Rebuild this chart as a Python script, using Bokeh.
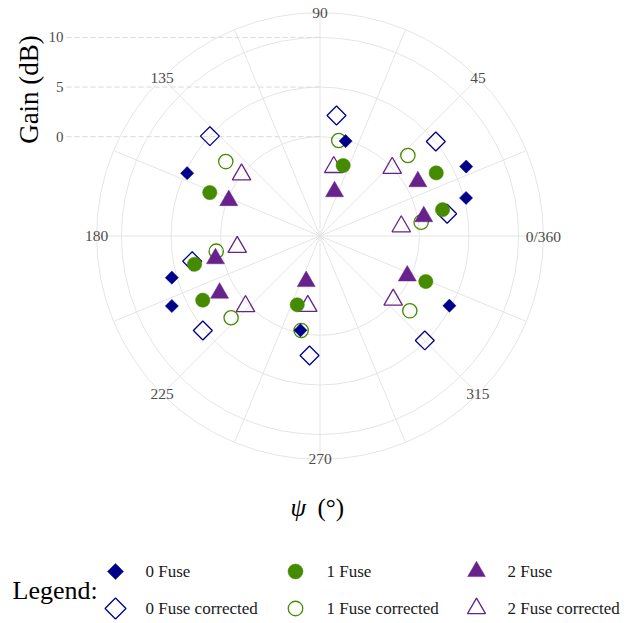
import numpy as np
from bokeh.plotting import figure
from bokeh.models import Range1d
from bokeh.core.properties import value
from bokeh.embed import file_html
from bokeh.resources import INLINE

# ---------------- data (psi in degrees, gain in dB) ----------------
psi_0 = [74.9, 25.4, 14.6, 154.7, 195.7, 205.3, 258.3, 331.7]
gain_0 = [-0.1, 6.3, 5.2, 4.8, 5.5, 6.5, -0.3, 4.8]
psi_0c = [82.2, 39.2, 9.9, 137.8, 191.2, 218.9, 265.0, 315.1]
gain_0c = [2.25, 5.05, 3.0, 4.97, 3.12, 5.16, 2.08, 4.9]
psi_1 = [71.8, 28.5, 12.1, 158.5, 192.7, 208.7, 251.7, 336.7]
gain_1 = [-2.53, 3.32, 2.62, 1.93, 2.95, 3.46, -2.7, 1.6]
psi_1c = [78.9, 42.5, 7.8, 141.7, 188.3, 222.6, 258.7, 320.2]
gain_1c = [-0.2, 2.0, 0.28, 2.09, 0.56, 2.16, -0.3, 1.77]
psi_2 = [71.9, 29.1, 10.6, 158.7, 192.2, 209.6, 253.1, 335.5]
gain_2 = [-5.29, 1.28, 0.63, -0.14, 0.77, 1.63, -5.22, -0.34]
psi_2c = [78.7, 43.3, 6.7, 141.9, 187.6, 223.3, 260.1, 318.9]
gain_2c = [-2.93, -0.01, -1.76, 0.04, -1.59, 0.31, -2.84, -0.22]

series_names = ["0 Fuse", "0 Fuse corrected", "1 Fuse", "1 Fuse corrected",
                "2 Fuse", "2 Fuse corrected"]

theta_breaks = [0, 45, 90, 135, 180, 225, 270, 315]
theta_labels = ["0/360", "45", "90", "135", "180", "225", "270", "315"]
theta_minor = [22.5, 67.5, 112.5, 157.5, 202.5, 247.5, 292.5, 337.5]
r_breaks = [0, 5, 10]
r_labels = ["0", "5", "10"]
GAIN_MIN, GAIN_MAX = -10.0, 10.0

# ---------------- geometry ----------------
W, H = 641, 623
PX = 9.93            # pixels per dB of radius
CX, CY = 319.5, 235.5  # polar centre in page pixels
R_SPAN = GAIN_MAX - GAIN_MIN
R_OUT = R_SPAN * 0.45 / 0.4   # outer circle (ggplot style)


def ux(px):
    return (px - CX) / PX


def uy(py):
    return (CY - py) / PX


def rad(g):
    return np.asarray(g, dtype=float) - GAIN_MIN


def polar(psi, gain):
    t = np.deg2rad(np.asarray(psi, dtype=float))
    r = rad(gain)
    return r * np.cos(t), r * np.sin(t)


p = figure(width=W, height=H, title=None, toolbar_location=None,
           output_backend="svg", min_border=0,
           x_axis_location=None, y_axis_location=None,
           x_range=Range1d(ux(0), ux(W)), y_range=Range1d(uy(H), uy(0)))
p.grid.visible = False
p.outline_line_color = None
p.background_fill_color = "white"
p.border_fill_color = "white"

GRID = "#E5E5E5"
SERIF = value("Liberation Serif")
GREY = "#4D4D4D"

# circles
circ_r = list(rad(r_breaks)) + [R_OUT]
p.circle(x=[0] * len(circ_r), y=[0] * len(circ_r), radius=circ_r,
         fill_color=None, line_color=GRID, line_width=1)

# spokes
all_t = np.deg2rad(np.array(theta_breaks + theta_minor, dtype=float))
p.segment(x0=np.zeros(len(all_t)), y0=np.zeros(len(all_t)),
          x1=R_OUT * np.cos(all_t), y1=R_OUT * np.sin(all_t),
          line_color=GRID, line_width=1)

# radial axis dashed guides
ry = rad(r_breaks)
p.segment(x0=[ux(66)] * 3, y0=ry, x1=[0] * 3, y1=ry,
          line_color="#D9D9D9", line_width=1, line_dash="5 3")
p.text(x=[ux(63)] * 3, y=ry, text=r_labels, text_align="right",
       text_baseline="middle", text_font=SERIF, text_font_size="15px",
       text_color=GREY)

# theta labels
tb = np.deg2rad(np.array(theta_breaks, dtype=float))
p.text(x=R_OUT * np.cos(tb), y=R_OUT * np.sin(tb), text=theta_labels,
       text_align="center", text_baseline="middle", text_font=SERIF,
       text_font_size="15.5px", text_color=GREY)

# axis titles
p.text(x=[ux(28)], y=[uy(89)], text=["Gain (dB)"], angle=np.pi / 2,
       text_align="center", text_baseline="middle", text_font=SERIF,
       text_font_size="27px", text_color="black")
p.text(x=[ux(290)], y=[uy(507)], text=["ψ"], text_align="left",
       text_baseline="middle", text_font=SERIF, text_font_style="italic",
       text_font_size="25px", text_color="black")
p.text(x=[ux(317)], y=[uy(507)], text=["(°)"], text_align="left",
       text_baseline="middle", text_font=SERIF,
       text_font_size="25px", text_color="black")

BLUE, GREEN, PURPLE = "#00008B", "#458B00", "#68228B"

# ---------------- points ----------------
x, y = polar(psi_0c, gain_0c)
p.scatter(x, y, marker="square", angle=np.pi / 4, size=13.4,
          fill_color=None, line_color=BLUE, line_width=1.3)
x, y = polar(psi_1c, gain_1c)
p.scatter(x, y, marker="circle", size=14.3,
          fill_color=None, line_color=GREEN, line_width=1.3)
x, y = polar(psi_2c, gain_2c)
p.scatter(x, y, marker="triangle", size=18.5,
          fill_color=None, line_color=PURPLE, line_width=1.3)
x, y = polar(psi_0, gain_0)
p.scatter(x, y, marker="square", angle=np.pi / 4, size=9.3,
          fill_color=BLUE, line_color=BLUE, line_width=0.5)
x, y = polar(psi_1, gain_1)
p.scatter(x, y, marker="circle", size=14.3,
          fill_color=GREEN, line_color=GREEN, line_width=0.5)
x, y = polar(psi_2, gain_2)
p.scatter(x, y, marker="triangle", size=18,
          fill_color=PURPLE, line_color=PURPLE, line_width=0.5)

# ---------------- legend ----------------
p.text(x=[ux(12)], y=[uy(590)], text=["Legend:"], text_align="left",
       text_baseline="middle", text_font=SERIF, text_font_size="26px",
       text_color="black")

col_mx = [115, 295, 476]
col_tx = [145, 326, 507]
row_y = [571, 608]
leg_specs = [
    ("square", np.pi / 4, 11.3, BLUE, BLUE),
    ("square", np.pi / 4, 14.8, None, BLUE),
    ("circle", 0, 15, GREEN, GREEN),
    ("circle", 0, 14.5, None, GREEN),
    ("triangle", 0, 17.7, PURPLE, PURPLE),
    ("triangle", 0, 18, None, PURPLE),
]
for i, (name, spec) in enumerate(zip(series_names, leg_specs)):
    col, row = i // 2, i % 2
    mk, ang, sz, fc, lc = spec
    lw = 1.3 if fc is None else 0.5
    p.scatter([ux(col_mx[col])], [uy(row_y[row])], marker=mk, angle=ang,
              size=sz, fill_color=fc, line_color=lc, line_width=lw)
    p.text(x=[ux(col_tx[col])], y=[uy(row_y[row])], text=[name],
           text_align="left", text_baseline="middle", text_font=SERIF,
           text_font_size="17px", text_color="#1A1A1A")

open("out.html", "w").write(file_html(p, INLINE))
